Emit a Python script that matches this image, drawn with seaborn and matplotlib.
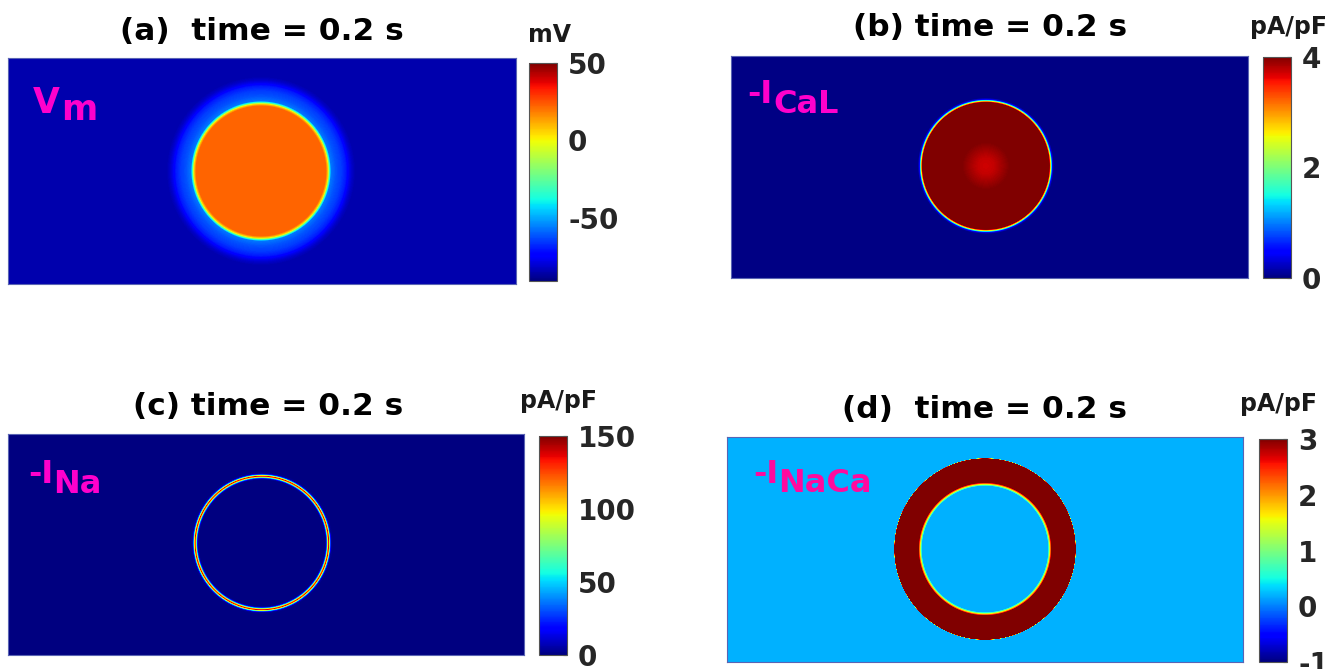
import numpy as np
import matplotlib
matplotlib.use("Agg")
import matplotlib.pyplot as plt
import seaborn as sns

sns.set_style("white")
plt.rcParams['font.family'] = ['DejaVu Sans']
plt.rcParams['axes.unicode_minus'] = False

W, H = 1340, 669

# ---------------- data ----------------
titles = ['(a)  time = 0.2 s', '(b) time = 0.2 s', '(c) time = 0.2 s', '(d)  time = 0.2 s']
units = ['mV', 'pA/pF', 'pA/pF', 'pA/pF']
label_main = ['V', '-I', '-I', '-I']
label_sub = ['m', 'CaL', 'Na', 'NaCa']

vmins = [-91, 0, 0, -1]
vmaxs = [50, 4, 150, 3]
cbar_ticks_a = [-50, 0, 50]
cbar_ticks_b = [0, 2, 4]
cbar_ticks_c = [0, 50, 100, 150]
cbar_ticks_d = [-1, 0, 1, 2, 3]

# radial profiles: distance from wave centre (px) -> value
vm_r = [0, 65, 67, 68.5, 70, 75, 80, 85, 88, 91, 94, 600]
vm_v = [22, 22, 5, -30, -57, -62, -65, -70, -77, -82, -85, -85]

ical_r = [0, 8, 16, 24, 30, 63, 64.5, 65.5, 66.5, 68, 600]
ical_v = [3.72, 3.76, 3.88, 4.0, 4.3, 4.6, 3.0, 1.5, 0.4, 0.03, 0.03]

ina_r = [0, 63, 64, 65, 66, 66.8, 67.6, 68.5, 69.5, 71, 600]
ina_v = [0.5, 0.5, 5, 40, 110, 140, 90, 30, 3, 0.5, 0.5]

inaca_r = [0, 63, 64, 65, 66, 67, 90.5, 91, 600]
inaca_v = [0.2, 0.2, 0.9, 1.8, 2.6, 3.5, 3.5, 0.2, 0.2]

# ---------------- layout (pixels) ----------------
map_boxes = [(8, 58, 516, 284), (731, 56, 1248, 278), (8, 434, 524, 655), (727, 437, 1243, 662)]
cb_boxes = [(529, 63, 557, 281), (1263, 57, 1291, 278), (539, 436, 567, 655), (1259, 439, 1287, 662)]
centres = [(0.498, 0.50), (0.493, 0.495), (0.492, 0.493), (0.50, 0.498)]
title_pos = [(262, 40), (990, 36), (268, 415), (985, 418)]
unit_pos = [(550, 42), (1288, 34), (558, 408), (1279, 411)]
lab_main_pos = [(33, 113), (747, 103), (28, 483), (753, 483)]
lab_sub_pos = [(61, 120), (773, 113), (53, 493), (778, 492)]
lab_colors = ['#ff00cc', '#ff00cc', '#ff00cc', '#ff0a9e']
lab_sizes = [25, 23, 23, 23]

profiles = [(vm_r, vm_v), (ical_r, ical_v), (ina_r, ina_v), (inaca_r, inaca_v)]
ticks = [cbar_ticks_a, cbar_ticks_b, cbar_ticks_c, cbar_ticks_d]


def ax_rect(box):
    x0, y0, x1, y1 = box
    return [x0 / W, 1 - y1 / H, (x1 - x0) / W, (y1 - y0) / H]


fig = plt.figure(figsize=(W / 100, H / 100), dpi=100)

for i in range(4):
    mb = map_boxes[i]
    nx, ny = mb[2] - mb[0], mb[3] - mb[1]
    cx, cy = centres[i][0] * nx, centres[i][1] * ny
    xx, yy = np.meshgrid(np.arange(nx) + 0.5, np.arange(ny) + 0.5)
    rr = np.hypot(xx - cx, yy - cy)
    pr, pv = profiles[i]
    field = np.interp(rr, pr, pv)

    ax = fig.add_axes(ax_rect(mb))
    cax = fig.add_axes(ax_rect(cb_boxes[i]))
    sns.heatmap(field, ax=ax, cmap='jet', vmin=vmins[i], vmax=vmaxs[i],
                cbar_ax=cax, xticklabels=False, yticklabels=False,
                rasterized=True)
    for s in ax.spines.values():
        s.set_visible(True)
        s.set_color('#5a64b4')
        s.set_linewidth(0.8)
    cb = ax.collections[0].colorbar
    cb.outline.set_linewidth(0.8)
    cb.outline.set_edgecolor('#555555')
    cb.set_ticks(ticks[i])
    cb.set_ticklabels([str(t) for t in ticks[i]])
    cax.tick_params(direction='in', length=3, width=0.8, color='#333333',
                    labelsize=20, labelcolor='#262626', pad=8)
    for t in cax.get_yticklabels():
        t.set_fontweight('bold')

    fig.text(title_pos[i][0] / W, 1 - title_pos[i][1] / H, titles[i],
             ha='center', va='baseline', fontsize=22.5, fontweight='bold', color='black')
    fig.text(unit_pos[i][0] / W, 1 - unit_pos[i][1] / H, units[i],
             ha='center', va='baseline', fontsize=17, fontweight='bold', color='#1a1a1a')
    fig.text(lab_main_pos[i][0] / W, 1 - lab_main_pos[i][1] / H, label_main[i],
             ha='left', va='baseline', fontsize=lab_sizes[i], fontweight='bold', color=lab_colors[i])
    fig.text(lab_sub_pos[i][0] / W, 1 - lab_sub_pos[i][1] / H, label_sub[i],
             ha='left', va='baseline', fontsize=lab_sizes[i], fontweight='bold', color=lab_colors[i])

fig.savefig('out.png', dpi=100)
